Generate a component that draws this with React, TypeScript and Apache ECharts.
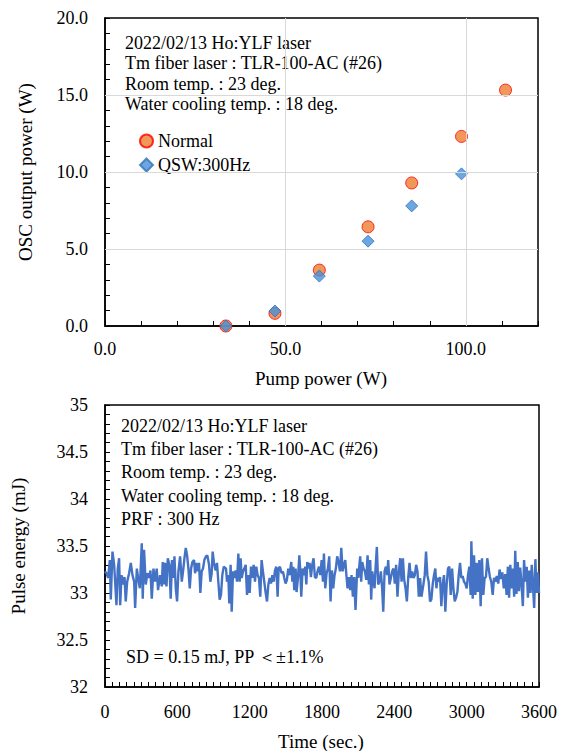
import React, { useEffect, useRef } from "react";
import * as echarts from "echarts";

// ---- Top chart: pump power vs OSC output power ----
const pumpNormal = [33.5, 47.1, 59.4, 72.9, 85.0, 98.8, 111.0];
const powerNormal = [0.0, 0.82, 3.63, 6.44, 9.29, 12.31, 15.32];
const pumpQsw = [33.5, 47.1, 59.4, 72.9, 85.0, 98.8];
const powerQsw = [0.0, 0.97, 3.24, 5.51, 7.8, 9.88];

// ---- Bottom chart: pulse energy vs time ----
const timeSec = [
  0, 12, 26, 40, 48, 62, 76, 84, 95, 106, 117, 126, 137, 151, 162, 172, 184, 200, 214, 228, 242, 250, 264, 275, 289, 305, 313, 324, 338, 352, 366, 377, 388, 402, 416, 429, 440,
  457, 471, 479, 490, 498, 510, 521, 534, 545, 556, 568, 576, 587, 598, 609, 623, 637, 650, 659, 670, 681, 692, 703, 714, 725, 739, 747, 758, 769, 780, 791, 802, 813, 824, 838, 849, 863, 874, 885, 893, 904, 918, 929, 940, 951, 962, 973, 985,
  1004, 1012, 1023, 1031, 1042, 1051, 1062, 1073, 1084, 1095, 1106, 1117, 1125, 1134, 1145, 1156, 1167, 1178, 1189, 1200, 1211, 1222, 1233, 1244, 1255, 1266, 1277, 1288, 1299, 1310, 1321, 1332, 1344, 1355, 1366, 1377, 1388, 1399, 1410, 1421, 1432, 1440, 1451, 1465, 1476, 1487, 1498, 1509, 1520, 1531,
  1545, 1554, 1562, 1570, 1581, 1589, 1601, 1612, 1620, 1628, 1639, 1650, 1661, 1670, 1678, 1689, 1697, 1708, 1719, 1730, 1741, 1752, 1763, 1775, 1786, 1797, 1808, 1816, 1827, 1838, 1849, 1860, 1871, 1882, 1893, 1904, 1915, 1926, 1937, 1949, 1960, 1971, 1982, 1993, 2001, 2012, 2023, 2034, 2045, 2056, 2067, 2078,
  2092, 2101, 2109, 2117, 2125, 2134, 2145, 2156, 2167, 2178, 2189, 2200, 2208, 2217, 2228, 2236, 2244, 2255, 2266, 2277, 2288, 2299, 2308, 2319, 2330, 2341, 2349, 2360, 2371, 2382, 2393, 2404, 2415, 2426, 2438, 2449, 2460, 2471, 2482, 2493, 2504, 2515, 2526, 2537, 2548, 2559, 2570, 2581, 2592, 2603, 2614, 2625,
  2641, 2652, 2663, 2674, 2685, 2696, 2707, 2718, 2729, 2740, 2749, 2757, 2768, 2779, 2790, 2801, 2812, 2823, 2834, 2845, 2856, 2868, 2879, 2890, 2901, 2912, 2923, 2934, 2945, 2956, 2967, 2978, 2989, 3000, 3011, 3022, 3033, 3039, 3050, 3061, 3072, 3083, 3094, 3105, 3116, 3127, 3138, 3149, 3160, 3171, 3182, 3193, 3204, 3216, 3227, 3238,
  3250, 3262, 3273, 3285, 3296, 3308, 3320, 3331, 3342, 3352, 3362, 3372, 3383, 3394, 3403, 3413, 3424, 3434, 3444, 3455, 3466, 3476, 3487, 3498, 3508, 3519, 3530, 3540, 3551, 3560, 3570, 3580, 3590, 3600,
];
const pulseEnergy = [
  33.23, 33.21, 33.16, 33.35, 32.93, 33.44, 33.3, 33.12, 32.87, 33.26, 33.37, 32.87, 33.19, 33.09, 33.17, 32.91, 33.12, 33.21, 33.32, 33.19, 33.12, 32.84, 33.26, 33.16, 33.05, 33.53, 32.94, 33.46, 33.09, 33.21, 33.16, 33.24, 32.94, 33.26, 33.12, 33.26, 33.03,
  33.19, 33.07, 33.33, 33.09, 33.32, 33.07, 33.37, 33.3, 32.94, 33.35, 33.16, 33.39, 33.05, 32.91, 33.23, 33.39, 33.12, 33.26, 33.37, 33.48, 33.4, 33.26, 33.05, 33.26, 33.33, 33.35, 33.21, 33.32, 33.23, 33.32, 33.0, 33.23, 33.26, 33.35, 33.39, 33.4, 33.3, 33.12, 33.21, 33.44, 33.32, 33.24, 33.32, 33.12, 32.93, 32.98, 33.19, 33.28,
  33.26, 33.12, 33.19, 32.89, 33.3, 32.8, 33.23, 33.16, 33.24, 33.12, 33.42, 33.12, 33.37, 33.16, 33.23, 33.26, 33.3, 32.98, 33.19, 33.0, 33.28, 33.16, 33.3, 33.12, 33.28, 33.19, 33.16, 32.96, 33.35, 33.23, 33.12, 33.01, 32.91, 33.09, 33.16, 33.1, 33.19, 33.12, 33.24, 33.28, 32.96, 33.26, 33.28, 33.21, 33.23, 33.16, 33.1, 33.14, 33.26, 33.19,
  33.33, 33.12, 33.28, 33.03, 33.26, 33.01, 33.17, 33.4, 33.23, 32.96, 33.26, 33.19, 33.28, 33.09, 33.33, 33.26, 33.32, 33.17, 33.3, 33.37, 33.17, 33.16, 33.23, 33.28, 33.19, 33.35, 33.12, 33.42, 33.05, 33.21, 33.26, 33.39, 32.91, 33.24, 33.05, 33.19, 33.26, 33.39, 33.33, 33.23, 33.48, 33.23, 33.3, 33.35, 33.21, 33.05, 33.17, 33.03, 33.19, 32.96, 33.17, 32.82,
  33.26, 33.16, 33.28, 33.39, 33.12, 33.33, 33.26, 33.23, 33.14, 33.4, 33.09, 33.35, 32.93, 33.23, 33.12, 33.05, 33.26, 33.49, 33.09, 33.12, 33.23, 33.05, 32.8, 33.23, 33.28, 33.19, 33.35, 33.09, 33.16, 33.23, 33.26, 33.1, 33.3, 32.96, 33.23, 33.37, 33.12, 33.37, 33.14, 33.05, 32.91, 33.16, 33.32, 33.16, 33.23, 33.16, 33.19, 33.3, 33.23, 32.96, 33.16, 32.96,
  33.09, 33.19, 33.44, 33.19, 33.12, 32.91, 32.93, 33.09, 33.19, 33.26, 33.05, 33.16, 33.12, 33.17, 32.86, 33.09, 33.19, 32.8, 33.09, 33.26, 33.28, 32.98, 33.26, 33.05, 32.91, 32.95, 33.01, 33.19, 33.32, 33.16, 33.18, 33.12, 33.1, 33.05, 33.19, 33.28, 32.98, 33.55, 32.94, 33.4, 32.98, 33.32, 33.01, 33.35, 32.86, 33.37, 32.98, 33.16, 33.17, 33.37, 33.26, 33.17, 33.12, 32.98, 33.16, 33.12,
  33.18, 33.1, 33.25, 33.15, 33.22, 33.05, 33.2, 32.98, 33.28, 32.95, 33.3, 33.05, 33.26, 32.96, 33.45, 32.99, 33.33, 33.02, 33.27, 33.1, 32.86, 33.35, 33.12, 33.28, 32.95, 33.24, 33.0, 33.3, 33.05, 32.84, 33.36, 33.0, 33.22, 33.0,
];

const topNotes = [
  "2022/02/13 Ho:YLF laser",
  "Tm fiber laser : TLR-100-AC (#26)",
  "Room temp. : 23 deg.",
  "Water cooling temp. : 18 deg.",
];
const bottomNotes = [
  "2022/02/13 Ho:YLF laser",
  "Tm fiber laser : TLR-100-AC (#26)",
  "Room temp. : 23 deg.",
  "Water cooling temp. : 18 deg.",
  "PRF : 300 Hz",
];
const statNote = "SD = 0.15 mJ, PP ＜±1.1%";

const FONT = "'Liberation Serif', 'Times New Roman', serif";
const FS = 18;

export default function App() {
  const ref = useRef<HTMLDivElement>(null);
  useEffect(() => {
    document.body.style.margin = "0";
    if (!ref.current) return;
    const chart = echarts.init(ref.current, undefined, { renderer: "svg" });
    const axisLine = { show: true, lineStyle: { color: "#000", width: 1.5 } };
    const tick = { show: true, inside: true, length: 5, lineStyle: { color: "#000", width: 1 } };
    const labelStyle = { color: "#000", fontFamily: FONT, fontSize: FS };
    const texts: any[] = [];
    topNotes.forEach((t, i) =>
      texts.push({ type: "text", left: 125, top: 34 + i * 20.3, style: { text: t, fill: "#000", font: `${FS}px ${FONT}` } })
    );
    bottomNotes.forEach((t, i) =>
      texts.push({ type: "text", left: 121, top: 417 + i * 23.2, style: { text: t, fill: "#000", font: `${FS}px ${FONT}` } })
    );
    texts.push({ type: "text", left: 126, top: 648, style: { text: statNote, fill: "#000", font: `${FS}px ${FONT}` } });
    texts.push({ type: "text", x: 25, y: 172, rotation: Math.PI / 2, style: { text: "OSC output power (W)", fill: "#000", font: `19px ${FONT}`, align: "center", verticalAlign: "middle" } });
    texts.push({ type: "text", x: 321, y: 378, style: { text: "Pump power (W)", fill: "#000", font: `19px ${FONT}`, align: "center", verticalAlign: "middle" } });
    texts.push({ type: "text", x: 18, y: 546, rotation: Math.PI / 2, style: { text: "Pulse energy (mJ)", fill: "#000", font: `19px ${FONT}`, align: "center", verticalAlign: "middle" } });
    texts.push({ type: "text", x: 321, y: 741, style: { text: "Time (sec.)", fill: "#000", font: `19px ${FONT}`, align: "center", verticalAlign: "middle" } });

    chart.setOption({
      animation: false,
      backgroundColor: "#fff",
      textStyle: { fontFamily: FONT },
      grid: [
        { left: 105, top: 18, width: 433, height: 308, show: true, borderColor: "#000", borderWidth: 1.5, containLabel: false },
        { left: 105, top: 405, width: 434, height: 282, show: true, borderColor: "#000", borderWidth: 1.5, containLabel: false },
      ],
      xAxis: [
        {
          type: "value", gridIndex: 0, min: 0, max: 120, interval: 10,
          axisLine, axisTick: tick, splitLine: { show: false },
          axisLabel: { ...labelStyle, margin: 14, interval: 0, formatter: (v: number) => (v % 50 === 0 ? v.toFixed(1) : "") },
        },
        {
          type: "value", gridIndex: 1, min: 0, max: 3600, interval: 600,
          axisLine, axisTick: tick, splitLine: { show: false },
          minorTick: { show: true, splitNumber: 10, length: 5, lineStyle: { color: "#000", width: 1 } },
          axisLabel: { ...labelStyle, margin: 16, formatter: (v: number) => String(v) },
        },
      ],
      yAxis: [
        {
          type: "value", gridIndex: 0, min: 0, max: 20, interval: 1,
          axisLine, axisTick: tick, splitLine: { show: false },
          axisLabel: { ...labelStyle, margin: 17, interval: 0, formatter: (v: number) => (v % 5 === 0 ? v.toFixed(1) : "") },
        },
        {
          type: "value", gridIndex: 1, min: 32, max: 35, interval: 0.5,
          axisLine, axisTick: tick, splitLine: { show: false },
          minorTick: { show: true, splitNumber: 5, length: 5, lineStyle: { color: "#000", width: 1 } },
          axisLabel: { ...labelStyle, margin: 17, formatter: (v: number) => String(v) },
        },
      ],
      legend: {
        data: ["Normal", "QSW:300Hz"],
        orient: "vertical", left: 134, top: 127, itemGap: 6, itemWidth: 13, itemHeight: 13,
        textStyle: { color: "#000", fontFamily: FONT, fontSize: FS },
      },
      graphic: texts,
      series: [
        {
          type: "scatter", name: "grid", xAxisIndex: 0, yAxisIndex: 0, data: [], z: 1, silent: true,
          markLine: {
            silent: true, symbol: "none", animation: false, label: { show: false },
            lineStyle: { color: "#d9d9d9", type: "solid", width: 1 },
            data: [{ xAxis: 50 }, { xAxis: 100 }, { yAxis: 5 }, { yAxis: 10 }, { yAxis: 15 }],
          },
        },
        {
          type: "scatter", name: "Normal", xAxisIndex: 0, yAxisIndex: 0, z: 3,
          symbol: "circle", symbolSize: 12,
          itemStyle: { color: "#ED7D31", borderColor: "#FF0000", borderWidth: 1 },
          data: pumpNormal.map((x, i) => [x, powerNormal[i]]),
        },
        {
          type: "scatter", name: "QSW:300Hz", xAxisIndex: 0, yAxisIndex: 0, z: 4,
          symbol: "diamond", symbolSize: 12,
          itemStyle: { color: "#4A90D9", borderColor: "#2E75B6", borderWidth: 1 },
          data: pumpQsw.map((x, i) => [x, powerQsw[i]]),
        },
        {
          type: "line", name: "Pulse energy", xAxisIndex: 1, yAxisIndex: 1,
          showSymbol: false, symbol: "none",
          lineStyle: { color: "#4472C4", width: 2.4 },
          data: timeSec.map((t, i) => [t, pulseEnergy[i]]),
        },
      ],
    });
    return () => chart.dispose();
  }, []);
  return <div ref={ref} style={{ width: 570, height: 751 }} />;
}
